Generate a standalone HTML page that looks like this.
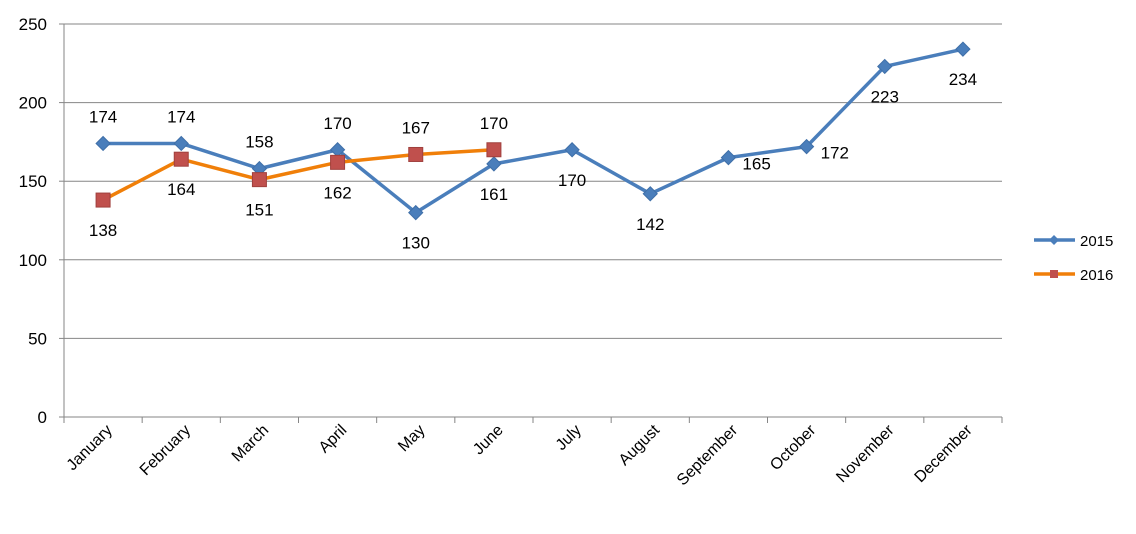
<!DOCTYPE html>
<html><head><meta charset="utf-8"><style>
body{margin:0;background:#fff;}
svg text{font-family:"Liberation Sans",sans-serif;fill:#000;}
</style></head><body>
<svg id="chart" width="1136" height="529" xmlns="http://www.w3.org/2000/svg"></svg>
<script>
const categories=["January","February","March","April","May","June","July","August","September","October","November","December"];
const series2015=[174,174,158,170,130,161,170,142,165,172,223,234];
const series2016=[138,164,151,162,167,170];
const yTicks=[0,50,100,150,200,250];
// label placement per point (style): 'a' above, 'b' below, 'r' right
const place2015=['a','a','a','a','b','b','b','b','r','r','b','b'];
const place2016=['b','b','b','b','a','a'];

const NS="http://www.w3.org/2000/svg";
const svg=document.getElementById('chart');
const L=64,R=1002,T=24,B=417;
const x=i=>L+(R-L)/categories.length*(i+0.5);
const y=v=>B-(v/250)*(B-T);
function mk(tag,attrs,parent){const e=document.createElementNS(NS,tag);for(const k in attrs)e.setAttribute(k,attrs[k]);(parent||svg).appendChild(e);return e;}

yTicks.forEach(t=>{
  const g=mk('line',{x1:L,x2:R,y1:y(t),y2:y(t),stroke:'#868686','stroke-width':1});
  
  
  const tx=mk('text',{x:L-17,y:y(t)+6,'text-anchor':'end','font-size':17});
  tx.textContent=t;
  
  
  const tk=mk('line',{x1:L-5,x2:L,y1:y(t),y2:y(t),stroke:'#868686'});
  
  
});
const ya=mk('line',{x1:L,x2:L,y1:T,y2:B,stroke:'#868686'});


categories.forEach((c,i)=>{
  const bx=L+(R-L)/categories.length*(i+1);
  const tk=mk('line',{x1:bx,x2:bx,y1:B,y2:B+6,stroke:'#868686'});
  
  
  const ax=x(i)+10, ay=B+14;
  const tx=mk('text',{x:ax,y:ay,'text-anchor':'end','font-size':16,transform:`rotate(-45 ${ax} ${ay})`});
  tx.textContent=c;
  
  
});
const tk0=mk('line',{x1:L,x2:L,y1:B,y2:B+6,stroke:'#868686'});



function drawSeries(vals,places,color,marker,name){
  const pl=mk('polyline',{points:vals.map((v,i)=>x(i)+','+y(v)).join(' '),fill:'none',stroke:color,'stroke-width':3.5,'stroke-linejoin':'round'});
  
  
  vals.forEach((v,i)=>{
    let m;
    if(marker==='d'){m=mk('polygon',{points:`${x(i)},${y(v)-7} ${x(i)+7},${y(v)} ${x(i)},${y(v)+7} ${x(i)-7},${y(v)}`,fill:'#4a7ebb',stroke:'#3f6fa8'});}
    else{m=mk('rect',{x:x(i)-7,y:y(v)-7,width:14,height:14,fill:'#c0504d',stroke:'#a0403d'});}
    
    
    const p=places[i];
    let lx=x(i),ly=y(v),anc='middle';
    if(p==='a')ly-=21;else if(p==='b')ly+=36;else{lx+=14;ly+=12;anc='start';}
    const t=mk('text',{x:lx,y:ly,'text-anchor':anc,'font-size':17});
    t.textContent=v;
    
    
  });
}
drawSeries(series2015,place2015,'#4a7ebb','d','2015');
drawSeries(series2016,place2016,'#f07f09','s','2016');

// legend
const lg=mk('g',{});


mk('line',{x1:1034,x2:1075,y1:240,y2:240,stroke:'#4a7ebb','stroke-width':3.5},lg);
mk('polygon',{points:'1054,235 1059,240 1054,245 1049,240',fill:'#4a7ebb'},lg);
const t1=mk('text',{x:1080,y:246,'font-size':15},lg);t1.textContent='2015';


mk('line',{x1:1034,x2:1075,y1:274,y2:274,stroke:'#f07f09','stroke-width':3.5},lg);
mk('rect',{x:1050,y:270,width:8,height:8,fill:'#c0504d'},lg);
const t2=mk('text',{x:1080,y:280,'font-size':15},lg);t2.textContent='2016';


</script>
</body></html>
